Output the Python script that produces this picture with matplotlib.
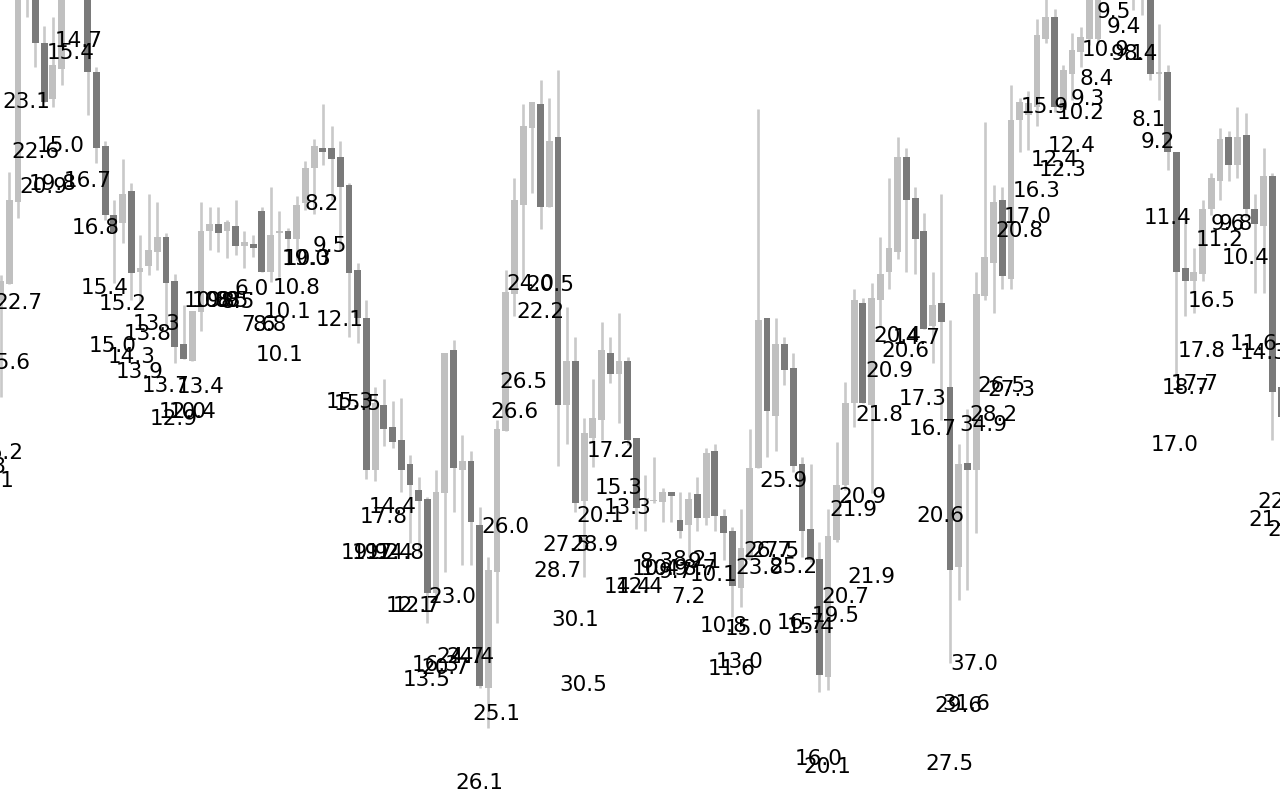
import numpy as np
import matplotlib
matplotlib.use('Agg')
import matplotlib.pyplot as plt

# chart levels run 0..800 over the figure height, some candles sit off the top edge
open_ = [500,516,598,820,820,757,701,731,830,860,820,728,654,585,577,609,528,534,548,563,
         519,456,439,488,569,576,569,574,554,556,589,528,567,569,561,597,632,652,652,643,
         615,530,482,330,395,373,360,336,310,301,207,307,450,330,339,275,112,228,369,506,
         595,672,696,593,663,395,439,299,362,380,447,426,439,362,300,299,298,308,280,275,
         306,282,349,284,269,212,240,332,482,384,456,432,336,271,241,123,260,315,397,497,
         395,500,528,548,643,602,569,474,497,413,233,337,330,504,537,600,521,680,685,693,
         761,783,690,726,748,761,761,830,830,830,810,810,810,726,728,648,532,519,526,591,
         619,663,635,665,591,574,624,413]
close = [519,600,820,840,757,698,735,820,860,830,728,652,585,568,606,527,532,550,563,517,
         453,441,489,569,576,567,578,554,558,552,528,565,569,561,595,632,654,648,641,613,
         527,482,330,397,371,358,330,315,299,207,308,447,332,339,278,114,230,371,508,600,
         674,698,593,659,395,439,297,367,382,450,426,439,360,292,302,300,308,304,269,301,
         282,347,284,267,214,252,332,480,389,456,430,334,269,240,125,264,315,397,500,397,
         502,526,552,643,600,561,471,495,478,230,336,330,506,543,598,524,680,698,697,765,
         783,693,730,750,763,810,810,860,860,860,820,820,726,728,648,528,519,528,591,622,
         661,635,663,591,576,624,408,383]
high = [525,628,830,850,830,774,783,830,870,870,830,733,659,600,641,617,565,606,598,567,
        526,495,489,598,593,593,580,600,569,565,593,613,589,572,604,639,661,696,674,659,
        617,537,500,413,421,399,402,345,323,303,330,447,460,365,349,293,243,380,530,622,
        696,698,720,702,730,493,463,382,421,478,463,487,443,362,325,343,312,308,308,308,
        323,352,356,291,273,291,371,691,482,482,463,447,343,336,258,291,358,418,511,502,
        517,563,622,663,652,613,587,528,606,480,356,391,528,678,615,613,715,702,709,781,
        805,791,735,767,773,820,820,870,870,870,830,830,820,776,735,648,587,552,600,627,
        672,669,693,687,606,652,627,413]
low = [403,516,582,783,733,698,693,715,820,820,685,637,580,517,557,500,497,525,530,473,
       437,441,439,469,550,548,542,545,532,543,528,518,523,535,540,590,586,635,600,550,
       463,457,321,319,354,352,308,257,247,177,200,228,288,235,235,112,72,177,369,484,
       520,607,571,593,334,356,288,223,333,360,417,377,355,271,269,297,278,278,262,243,
       269,275,269,240,183,193,240,332,343,349,415,328,243,238,108,110,258,310,373,397,
       307,473,511,541,528,526,471,437,380,137,200,210,267,500,487,511,511,648,650,674,
       757,688,688,700,733,755,755,820,820,820,790,785,720,700,630,423,484,487,519,585,
       600,619,622,583,507,507,360,383]

label_text = ['14.7','15.4','23.1','22.6','15.0','20.9','19.8','16.7','16.8','8.2','9.5','19.0','10.3',
              '22.7','15.6','16.2','13.8','15.1','15.4','15.2','13.3','13.8','15.0','14.3','13.9','13.7','13.4',
              '12.9','12.0','10.4','10.8','10.9','9.8','8.5','8.5','6.0','10.8','10.1','7.6','8.8','10.1','12.1',
              '15.3','15.5','14.4','17.8','14.8','19.9','19.2','17.4','12.1','12.7','23.0','16.3','20.7','13.5',
              '24.7','24.4','25.1','26.1','26.5','26.6','17.2','15.3','13.3','20.1','26.0','27.5','28.9','28.7',
              '30.1','30.5','24.0','20.5','22.2','14.4','12.4','10.4','10.9','8.3','9.7','8.2','8.7','9.1','10.1',
              '7.2','20.9','17.3','21.8','16.7','25.9','20.9','21.9','20.6','26.7','27.5','23.8','25.2','21.9',
              '20.7','19.5','16.7','15.4','10.8','15.0','13.0','11.6','37.0','29.6','31.6','27.5','16.0','20.1',
              '20.4','14.7','20.6','26.5','27.3','28.2','34.9','16.5','17.8','11.6','14.3','18.7','17.7','17.0',
              '22.5','21.5','22.1','9.5','9.4','10.9','9.1','8.4','8.4','9.3','15.9','10.2','8.1','9.2','12.4',
              '12.4','12.3','16.3','17.0','20.8','11.4','9.6','9.8','11.2','10.4']
label_x = [79,71,26,35,61,43,53,88,96,322,330,306,308,
           18,7,0,-17,-9,105,123,157,148,113,132,140,166,201,
           174,183,193,208,216,224,232,238,252,297,288,258,270,280,340,
           350,358,393,384,401,365,376,390,410,417,452,436,445,427,
           460,470,496,479,523,514,611,619,628,600,505,566,594,557,
           575,583,530,550,540,628,640,656,665,657,676,690,700,705,714,
           688,889,923,879,933,783,862,853,940,767,775,759,793,871,
           845,836,801,811,724,749,740,732,974,958,966,949,819,827,
           897,917,905,1001,1011,993,983,1212,1202,1254,1264,1186,1195,1175,
           1281,1272,1291,1114,1124,1106,1128,1141,1097,1088,1045,1081,1149,1158,1072,
           1055,1063,1037,1028,1019,1168,1228,1236,1220,1246]
label_y = [759,747,698,648,654,613,616,619,572,596,554,541,541,
           497,437,347,333,319,512,496,476,466,454,443,428,414,413,
           381,388,388,499,499,499,499,498,511,512,488,475,475,445,480,
           398,396,293,283,247,247,247,247,194,194,203,135,132,120,
           143,143,86,17,418,388,349,312,292,284,273,255,255,229,
           180,115,516,515,488,213,213,231,231,238,228,240,231,238,225,
           203,429,401,385,371,319,303,290,284,249,249,232,233,223,
           203,184,177,173,174,171,138,131,136,94,96,36,41,33,
           464,462,449,414,410,385,375,499,449,456,447,412,416,355,
           298,280,270,788,773,750,746,746,721,701,693,687,680,658,654,
           640,630,609,583,569,582,576,576,560,542]

candle_x = 0.59 + 8.71 * np.arange(len(open_))
open_ = np.array(open_)
close = np.array(close)
up = close >= open_

fig = plt.figure(figsize=(12.8, 8), dpi=100)
ax = fig.add_axes([0, 0, 1, 1])

ax.vlines(candle_x, low, high, color='#c9c9c9', linewidth=1.9, zorder=1)
ax.bar(candle_x[up], (close - open_)[up], bottom=open_[up], width=6.8, color='#c0c0c0', zorder=2)
ax.bar(candle_x[~up], (close - open_)[~up], bottom=open_[~up], width=6.8, color='#7a7a7a', zorder=2)

for t, x, y in zip(label_text, label_x, label_y):
    ax.text(x, y, t, fontsize=15.5, color='black', ha='center', va='center', zorder=3)

ax.set_xlim(0, 1280)
ax.set_ylim(0, 800)
ax.axis('off')

fig.savefig('out.png', dpi=100, facecolor='white')
